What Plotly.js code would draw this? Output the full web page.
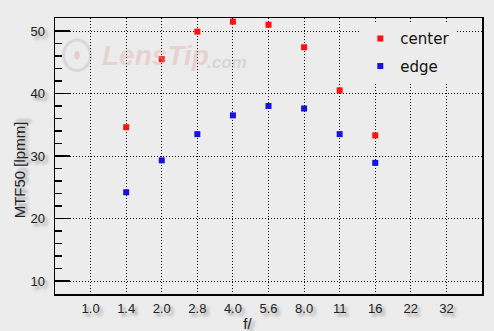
<!DOCTYPE html>
<html>
<head>
<meta charset="utf-8">
<script src="https://cdn.plot.ly/plotly-3.0.1.min.js"></script>
<style>
html,body{margin:0;padding:0;background:#ececec;}
#chart{width:494px;height:331px;}
.xtick text,.ytick text,.g-xtitle text,.g-ytitle text{text-shadow:3px 3px 3px rgba(0,0,0,0.35);}
.g-xtitle{transform:translate(-21px,0px);}
.g-ytitle{transform:translate(2px,14px);}
</style>
</head>
<body>
<div id="chart"></div>
<script>
const apertures = ["1.0","1.4","2.0","2.8","4.0","5.6","8.0","11","16","22","32"];
const measuredApertures = ["1.4","2.0","2.8","4.0","5.6","8.0","11","16"];
const centerValues = [34.6, 45.5, 49.9, 51.5, 51.0, 47.4, 40.5, 33.3];
const edgeValues = [24.2, 29.3, 33.5, 36.5, 38.0, 37.6, 33.5, 28.9];

const traces = [
  {x: measuredApertures, y: centerValues, name: "center", type: "scatter", mode: "markers",
   legendgroup: "a",
   marker: {symbol: "square", size: 6, color: "#ff1010"}},
  {x: measuredApertures, y: edgeValues, name: "edge", type: "scatter", mode: "markers",
   legendgroup: "b",
   marker: {symbol: "square", size: 6, color: "#1414dc"}}
];

const yRange = [7.92, 52.08];

const layout = {
  width: 494, height: 331,
  margin: {l: 55, r: 12, t: 18, b: 37, pad: 0},
  paper_bgcolor: "#ececec",
  plot_bgcolor: "#ececec",
  font: {family: "Liberation Sans, Arial, sans-serif", size: 13, color: "#111"},
  showlegend: true,
  legend: {x: 0.715, y: 0.985, xanchor: "left", yanchor: "top", bgcolor: "#ececec",
           font: {family: "DejaVu Sans, sans-serif", size: 15, color: "#111"},
           tracegroupgap: 5, itemwidth: 30},
  xaxis: {
    type: "category", categoryorder: "array", categoryarray: apertures,
    range: [-1, 11], showline: true, linecolor: "#000", linewidth: 1.5, mirror: true,
    ticks: "", showgrid: true, gridcolor: "#000", gridwidth: 1, griddash: "1px,2px",
    zeroline: false, tickfont: {size: 13, color: "#222"}, ticklabelstandoff: 2,
    title: {text: "f/", font: {size: 15, color: "#222"}, standoff: 3}
  },
  yaxis: {
    range: yRange, dtick: 10, tick0: 0,
    showline: true, linecolor: "#000", linewidth: 1.5, mirror: true,
    ticks: "inside", ticklen: 15, tickcolor: "#000", tickwidth: 1.5,
    minor: {dtick: 2, ticks: "inside", ticklen: 7, tickcolor: "#000", tickwidth: 1.3, showgrid: false},
    showgrid: true, gridcolor: "#000", gridwidth: 1, griddash: "1px,2px",
    zeroline: false, tickfont: {size: 13, color: "#222"}, ticklabelstandoff: 6,
    title: {text: "MTF50 [lpmm]", font: {size: 15, color: "#222"}, standoff: 3}
  },
  yaxis2: {
    overlaying: "y", side: "right", range: yRange, dtick: 10, tick0: 0,
    showline: false, showticklabels: false, showgrid: false, zeroline: false,
    ticks: "inside", ticklen: 15, tickcolor: "#000", tickwidth: 1.5,
    minor: {dtick: 2, ticks: "inside", ticklen: 7, tickcolor: "#000", tickwidth: 1.3, showgrid: false}
  },
  shapes: [
    {type: "circle", xref: "paper", yref: "paper", layer: "below",
     x0: 0.02, x1: 0.083, y0: 0.81, y1: 0.92,
     line: {color: "rgba(180,180,180,0.35)", width: 3}},
    {type: "circle", xref: "paper", yref: "paper", layer: "below",
     x0: 0.045, x1: 0.058, y0: 0.85, y1: 0.88,
     fillcolor: "rgba(230,150,140,0.35)", line: {width: 0}}
  ],
  annotations: [
    {xref: "paper", yref: "paper", x: 0.105, y: 0.865, xanchor: "left", yanchor: "middle",
     text: "<b><i>LensTip</i></b>", showarrow: false,
     font: {family: "Liberation Sans, Arial, sans-serif", size: 28, color: "rgba(225,160,150,0.35)"}},
    {xref: "paper", yref: "paper", x: 0.352, y: 0.84, xanchor: "left", yanchor: "middle",
     text: "<b><i>.com</i></b>", showarrow: false,
     font: {family: "Liberation Sans, Arial, sans-serif", size: 17, color: "rgba(170,170,170,0.35)"}}
  ]
};

Plotly.newPlot("chart", traces, layout, {displayModeBar: false, staticPlot: true});
</script>
</body>
</html>
